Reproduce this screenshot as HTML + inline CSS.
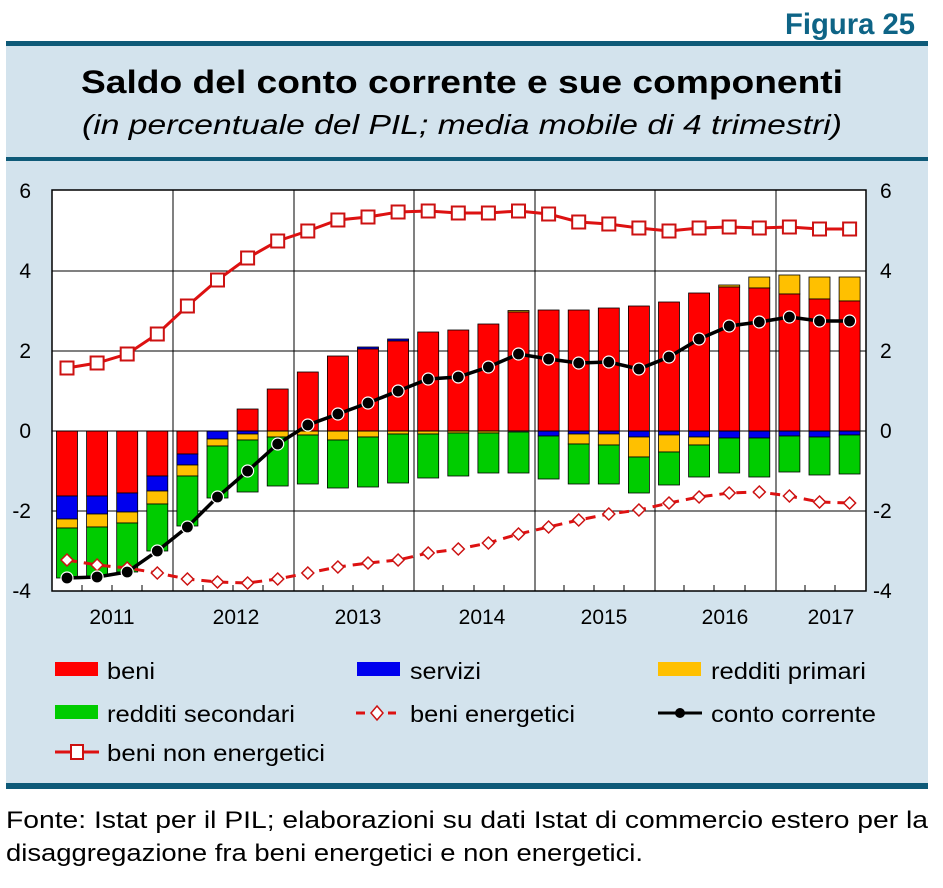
<!DOCTYPE html>
<html><head><meta charset="utf-8"><style>
html,body{margin:0;padding:0;background:#fff;}
svg{display:block;font-family:"Liberation Sans",Arial,sans-serif;}
.r{fill:#ff0000}.b{fill:#0000ee}.y{fill:#ffc000}.g{fill:#00cc00}
.bars rect{stroke:#000;stroke-width:0.8}
</style></head><body>
<svg width="943" height="888" viewBox="0 0 943 888" xmlns="http://www.w3.org/2000/svg">
<rect x="6" y="43" width="922" height="744" fill="#d3e3ed"/>
<rect x="6" y="41" width="922" height="5" fill="#0e5a78"/>
<rect x="6" y="157" width="922" height="4" fill="#0e5a78"/>
<rect x="6" y="783" width="922" height="6" fill="#0e5a78"/>
<text x="915" y="34" text-anchor="end" font-size="30" font-weight="bold" fill="#0e6486" textLength="130" lengthAdjust="spacingAndGlyphs">Figura 25</text>
<text x="462" y="93" text-anchor="middle" font-size="32" font-weight="bold" fill="#000" textLength="762" lengthAdjust="spacingAndGlyphs">Saldo del conto corrente e sue componenti</text>
<text x="462" y="134" text-anchor="middle" font-size="28" font-style="italic" fill="#000" textLength="760" lengthAdjust="spacingAndGlyphs">(in percentuale del PIL; media mobile di 4 trimestri)</text>

<rect x="52" y="190" width="814" height="401" fill="#fff"/>
<g stroke="#000" stroke-width="1">
<line x1="52" y1="271" x2="866" y2="271"/><line x1="52" y1="351" x2="866" y2="351"/><line x1="52" y1="511" x2="866" y2="511"/>
<line x1="173" y1="190" x2="173" y2="591"/><line x1="294" y1="190" x2="294" y2="591"/><line x1="414" y1="190" x2="414" y2="591"/>
<line x1="535" y1="190" x2="535" y2="591"/><line x1="655" y1="190" x2="655" y2="591"/><line x1="776" y1="190" x2="776" y2="591"/>
</g>
<g class="bars">
<rect class="r" x="56.5" y="431" width="21" height="65"/><rect class="b" x="56.5" y="496" width="21" height="23"/><rect class="y" x="56.5" y="519" width="21" height="9"/><rect class="g" x="56.5" y="528" width="21" height="50"/>
<rect class="r" x="86.6" y="431" width="21" height="65"/><rect class="b" x="86.6" y="496" width="21" height="18"/><rect class="y" x="86.6" y="514" width="21" height="13"/><rect class="g" x="86.6" y="527" width="21" height="49"/>
<rect class="r" x="116.7" y="431" width="21" height="62"/><rect class="b" x="116.7" y="493" width="21" height="19"/><rect class="y" x="116.7" y="512" width="21" height="11"/><rect class="g" x="116.7" y="523" width="21" height="49"/>
<rect class="r" x="146.8" y="431" width="21" height="45"/><rect class="b" x="146.8" y="476" width="21" height="15"/><rect class="y" x="146.8" y="491" width="21" height="13"/><rect class="g" x="146.8" y="504" width="21" height="47"/>
<rect class="r" x="176.9" y="431" width="21" height="23"/><rect class="b" x="176.9" y="454" width="21" height="11"/><rect class="y" x="176.9" y="465" width="21" height="11"/><rect class="g" x="176.9" y="476" width="21" height="50"/>
<rect class="b" x="207" y="431" width="21" height="8"/><rect class="y" x="207" y="439" width="21" height="7"/><rect class="g" x="207" y="446" width="21" height="52"/>
<rect class="r" x="237.1" y="409" width="21" height="22"/><rect class="b" x="237.1" y="431" width="21" height="3"/><rect class="y" x="237.1" y="434" width="21" height="6"/><rect class="g" x="237.1" y="440" width="21" height="52"/>
<rect class="r" x="267.2" y="389" width="21" height="42"/><rect class="y" x="267.2" y="431" width="21" height="6"/><rect class="g" x="267.2" y="437" width="21" height="49"/>
<rect class="r" x="297.3" y="372" width="21" height="59"/><rect class="y" x="297.3" y="431" width="21" height="4"/><rect class="g" x="297.3" y="435" width="21" height="49"/>
<rect class="r" x="327.4" y="356" width="21" height="75"/><rect class="y" x="327.4" y="431" width="21" height="9"/><rect class="g" x="327.4" y="440" width="21" height="48"/>
<rect class="b" x="357.5" y="347" width="21" height="2"/><rect class="r" x="357.5" y="349" width="21" height="82"/><rect class="y" x="357.5" y="431" width="21" height="6"/><rect class="g" x="357.5" y="437" width="21" height="50"/>
<rect class="b" x="387.6" y="339" width="21" height="2"/><rect class="r" x="387.6" y="341" width="21" height="90"/><rect class="y" x="387.6" y="431" width="21" height="3"/><rect class="g" x="387.6" y="434" width="21" height="49"/>
<rect class="r" x="417.7" y="332" width="21" height="99"/><rect class="y" x="417.7" y="431" width="21" height="3"/><rect class="g" x="417.7" y="434" width="21" height="44"/>
<rect class="r" x="447.8" y="330" width="21" height="101"/><rect class="y" x="447.8" y="431" width="21" height="2"/><rect class="g" x="447.8" y="433" width="21" height="43"/>
<rect class="r" x="477.9" y="324" width="21" height="107"/><rect class="y" x="477.9" y="431" width="21" height="2"/><rect class="g" x="477.9" y="433" width="21" height="40"/>
<rect class="y" x="508" y="310.5" width="21" height="1.5"/><rect class="r" x="508" y="312" width="21" height="119"/><rect class="g" x="508" y="432" width="21" height="41"/>
<rect class="r" x="538.1" y="310" width="21" height="121"/><rect class="b" x="538.1" y="431" width="21" height="5"/><rect class="g" x="538.1" y="436" width="21" height="43"/>
<rect class="r" x="568.2" y="310" width="21" height="121"/><rect class="b" x="568.2" y="431" width="21" height="3"/><rect class="y" x="568.2" y="434" width="21" height="10"/><rect class="g" x="568.2" y="444" width="21" height="40"/>
<rect class="r" x="598.3" y="308" width="21" height="123"/><rect class="b" x="598.3" y="431" width="21" height="3"/><rect class="y" x="598.3" y="434" width="21" height="11"/><rect class="g" x="598.3" y="445" width="21" height="39"/>
<rect class="r" x="628.4" y="306" width="21" height="125"/><rect class="b" x="628.4" y="431" width="21" height="6"/><rect class="y" x="628.4" y="437" width="21" height="20"/><rect class="g" x="628.4" y="457" width="21" height="36"/>
<rect class="r" x="658.5" y="302" width="21" height="129"/><rect class="b" x="658.5" y="431" width="21" height="4"/><rect class="y" x="658.5" y="435" width="21" height="17"/><rect class="g" x="658.5" y="452" width="21" height="33"/>
<rect class="r" x="688.6" y="293" width="21" height="138"/><rect class="b" x="688.6" y="431" width="21" height="6"/><rect class="y" x="688.6" y="437" width="21" height="8"/><rect class="g" x="688.6" y="445" width="21" height="32"/>
<rect class="y" x="718.7" y="285" width="21" height="2"/><rect class="r" x="718.7" y="287" width="21" height="144"/><rect class="b" x="718.7" y="431" width="21" height="7"/><rect class="g" x="718.7" y="438" width="21" height="35"/>
<rect class="y" x="748.8" y="277" width="21" height="11"/><rect class="r" x="748.8" y="288" width="21" height="143"/><rect class="b" x="748.8" y="431" width="21" height="7"/><rect class="g" x="748.8" y="438" width="21" height="39"/>
<rect class="y" x="778.9" y="275" width="21" height="19"/><rect class="r" x="778.9" y="294" width="21" height="137"/><rect class="b" x="778.9" y="431" width="21" height="5"/><rect class="g" x="778.9" y="436" width="21" height="36"/>
<rect class="y" x="809" y="277" width="21" height="22"/><rect class="r" x="809" y="299" width="21" height="132"/><rect class="b" x="809" y="431" width="21" height="6"/><rect class="g" x="809" y="437" width="21" height="38"/>
<rect class="y" x="839.1" y="277" width="21" height="24"/><rect class="r" x="839.1" y="301" width="21" height="130"/><rect class="b" x="839.1" y="431" width="21" height="4"/><rect class="g" x="839.1" y="435" width="21" height="39"/>
</g>
<line x1="52" y1="431" x2="866" y2="431" stroke="#000" stroke-width="1"/>
<polyline fill="none" stroke="#dd1111" stroke-width="3" stroke-dasharray="10,7" points="67,560 97.1,565 127.2,568 157.3,573 187.4,579 217.5,582 247.6,583 277.7,579 307.8,573 337.9,567 368,563 398.1,560 428.2,553 458.3,549 488.4,543 518.5,534 548.6,527 578.7,520 608.8,514 638.9,510 669,503 699.1,497 729.2,493 759.3,492 789.4,496 819.5,502 849.6,503"/>
<g fill="#fff" stroke="#cc1111" stroke-width="1.5">
<path d="M67 554l6 6-6 6-6-6z"/><path d="M97.1 559l6 6-6 6-6-6z"/><path d="M127.2 562l6 6-6 6-6-6z"/><path d="M157.3 567l6 6-6 6-6-6z"/><path d="M187.4 573l6 6-6 6-6-6z"/><path d="M217.5 576l6 6-6 6-6-6z"/><path d="M247.6 577l6 6-6 6-6-6z"/><path d="M277.7 573l6 6-6 6-6-6z"/><path d="M307.8 567l6 6-6 6-6-6z"/><path d="M337.9 561l6 6-6 6-6-6z"/><path d="M368 557l6 6-6 6-6-6z"/><path d="M398.1 554l6 6-6 6-6-6z"/><path d="M428.2 547l6 6-6 6-6-6z"/><path d="M458.3 543l6 6-6 6-6-6z"/><path d="M488.4 537l6 6-6 6-6-6z"/><path d="M518.5 528l6 6-6 6-6-6z"/><path d="M548.6 521l6 6-6 6-6-6z"/><path d="M578.7 514l6 6-6 6-6-6z"/><path d="M608.8 508l6 6-6 6-6-6z"/><path d="M638.9 504l6 6-6 6-6-6z"/><path d="M669 497l6 6-6 6-6-6z"/><path d="M699.1 491l6 6-6 6-6-6z"/><path d="M729.2 487l6 6-6 6-6-6z"/><path d="M759.3 486l6 6-6 6-6-6z"/><path d="M789.4 490l6 6-6 6-6-6z"/><path d="M819.5 496l6 6-6 6-6-6z"/><path d="M849.6 497l6 6-6 6-6-6z"/>
</g>
<polyline fill="none" stroke="#dd1111" stroke-width="3" points="67,368 97.1,363 127.2,354 157.3,334 187.4,306 217.5,280 247.6,258 277.7,241 307.8,231 337.9,220 368,217 398.1,212 428.2,211 458.3,213 488.4,213 518.5,211 548.6,214 578.7,222 608.8,224 638.9,228 669,231 699.1,228 729.2,227 759.3,228 789.4,227 819.5,229 849.6,229"/>
<g fill="#fff" stroke="#cc1111" stroke-width="2">
<rect x="60.5" y="361.5" width="13" height="13"/><rect x="90.6" y="356.5" width="13" height="13"/><rect x="120.7" y="347.5" width="13" height="13"/><rect x="150.8" y="327.5" width="13" height="13"/><rect x="180.9" y="299.5" width="13" height="13"/><rect x="211" y="273.5" width="13" height="13"/><rect x="241.1" y="251.5" width="13" height="13"/><rect x="271.2" y="234.5" width="13" height="13"/><rect x="301.3" y="224.5" width="13" height="13"/><rect x="331.4" y="213.5" width="13" height="13"/><rect x="361.5" y="210.5" width="13" height="13"/><rect x="391.6" y="205.5" width="13" height="13"/><rect x="421.7" y="204.5" width="13" height="13"/><rect x="451.8" y="206.5" width="13" height="13"/><rect x="481.9" y="206.5" width="13" height="13"/><rect x="512" y="204.5" width="13" height="13"/><rect x="542.1" y="207.5" width="13" height="13"/><rect x="572.2" y="215.5" width="13" height="13"/><rect x="602.3" y="217.5" width="13" height="13"/><rect x="632.4" y="221.5" width="13" height="13"/><rect x="662.5" y="224.5" width="13" height="13"/><rect x="692.6" y="221.5" width="13" height="13"/><rect x="722.7" y="220.5" width="13" height="13"/><rect x="752.8" y="221.5" width="13" height="13"/><rect x="782.9" y="220.5" width="13" height="13"/><rect x="813" y="222.5" width="13" height="13"/><rect x="843.1" y="222.5" width="13" height="13"/>
</g>
<polyline fill="none" stroke="#000" stroke-width="3.5" points="67,578 97.1,577 127.2,572 157.3,551 187.4,527 217.5,497 247.6,471 277.7,444 307.8,425 337.9,414 368,403 398.1,391 428.2,379 458.3,377 488.4,367 518.5,354 548.6,359 578.7,363 608.8,362 638.9,369 669,357 699.1,339 729.2,326 759.3,322 789.4,317 819.5,321 849.6,321"/>
<g fill="#000" stroke="#fff" stroke-width="1.2">
<circle cx="67" cy="578" r="6"/><circle cx="97.1" cy="577" r="6"/><circle cx="127.2" cy="572" r="6"/><circle cx="157.3" cy="551" r="6"/><circle cx="187.4" cy="527" r="6"/><circle cx="217.5" cy="497" r="6"/><circle cx="247.6" cy="471" r="6"/><circle cx="277.7" cy="444" r="6"/><circle cx="307.8" cy="425" r="6"/><circle cx="337.9" cy="414" r="6"/><circle cx="368" cy="403" r="6"/><circle cx="398.1" cy="391" r="6"/><circle cx="428.2" cy="379" r="6"/><circle cx="458.3" cy="377" r="6"/><circle cx="488.4" cy="367" r="6"/><circle cx="518.5" cy="354" r="6"/><circle cx="548.6" cy="359" r="6"/><circle cx="578.7" cy="363" r="6"/><circle cx="608.8" cy="362" r="6"/><circle cx="638.9" cy="369" r="6"/><circle cx="669" cy="357" r="6"/><circle cx="699.1" cy="339" r="6"/><circle cx="729.2" cy="326" r="6"/><circle cx="759.3" cy="322" r="6"/><circle cx="789.4" cy="317" r="6"/><circle cx="819.5" cy="321" r="6"/><circle cx="849.6" cy="321" r="6"/>
</g>
<rect x="52" y="190" width="814" height="401" fill="none" stroke="#000" stroke-width="1.5"/>
<g stroke="#000" stroke-width="1">
<line x1="82" y1="591" x2="82" y2="585"/><line x1="112" y1="591" x2="112" y2="585"/><line x1="142" y1="591" x2="142" y2="585"/><line x1="203" y1="591" x2="203" y2="585"/><line x1="233" y1="591" x2="233" y2="585"/><line x1="263" y1="591" x2="263" y2="585"/><line x1="323" y1="591" x2="323" y2="585"/><line x1="353" y1="591" x2="353" y2="585"/><line x1="383" y1="591" x2="383" y2="585"/><line x1="443" y1="591" x2="443" y2="585"/><line x1="474" y1="591" x2="474" y2="585"/><line x1="504" y1="591" x2="504" y2="585"/><line x1="564" y1="591" x2="564" y2="585"/><line x1="594" y1="591" x2="594" y2="585"/><line x1="624" y1="591" x2="624" y2="585"/><line x1="684" y1="591" x2="684" y2="585"/><line x1="714" y1="591" x2="714" y2="585"/><line x1="745" y1="591" x2="745" y2="585"/><line x1="805" y1="591" x2="805" y2="585"/><line x1="835" y1="591" x2="835" y2="585"/>
</g>
<g font-size="21" fill="#000">
<text x="31" y="198" text-anchor="end">6</text><text x="31" y="278" text-anchor="end">4</text><text x="31" y="358" text-anchor="end">2</text><text x="31" y="438" text-anchor="end">0</text><text x="31" y="518" text-anchor="end">-2</text><text x="31" y="598" text-anchor="end">-4</text>
<text x="880" y="198">6</text><text x="880" y="278">4</text><text x="880" y="358">2</text><text x="880" y="438">0</text><text x="873" y="518">-2</text><text x="873" y="598">-4</text>
<g text-anchor="middle"><text x="112" y="624">2011</text><text x="236" y="624">2012</text><text x="358" y="624">2013</text><text x="482" y="624">2014</text><text x="604" y="624">2015</text><text x="725" y="624">2016</text><text x="831" y="624">2017</text></g>
</g>
<g font-size="23" fill="#000">
<rect x="55" y="662" width="43" height="14" fill="#ff0000"/><text x="107" y="679" textLength="48" lengthAdjust="spacingAndGlyphs">beni</text>
<rect x="357" y="662" width="43" height="14" fill="#0000ee"/><text x="410" y="679" textLength="71" lengthAdjust="spacingAndGlyphs">servizi</text>
<rect x="658" y="662" width="43" height="14" fill="#ffc000"/><text x="711" y="679" textLength="155" lengthAdjust="spacingAndGlyphs">redditi primari</text>
<rect x="55" y="705" width="43" height="14" fill="#00cc00"/><text x="107" y="722" textLength="188" lengthAdjust="spacingAndGlyphs">redditi secondari</text>
<line x1="356" y1="713" x2="396" y2="713" stroke="#dd1111" stroke-width="3" stroke-dasharray="9,7"/><path d="M377 706l6 7-6 7-6-7z" fill="#fff" stroke="#cc1111" stroke-width="1.5"/><text x="410" y="722" textLength="165" lengthAdjust="spacingAndGlyphs">beni energetici</text>
<line x1="658" y1="713" x2="702" y2="713" stroke="#000" stroke-width="3"/><circle cx="680" cy="713" r="5" fill="#000"/><text x="711" y="722" textLength="165" lengthAdjust="spacingAndGlyphs">conto corrente</text>
<line x1="55" y1="752" x2="99" y2="752" stroke="#dd1111" stroke-width="3"/><rect x="71" y="745" width="12" height="14" fill="#fff" stroke="#cc1111" stroke-width="2"/><text x="107" y="761" textLength="218" lengthAdjust="spacingAndGlyphs">beni non energetici</text>
</g>
<g font-size="24" fill="#000">
<text x="6" y="828" textLength="922" lengthAdjust="spacingAndGlyphs">Fonte: Istat per il PIL; elaborazioni su dati Istat di commercio estero per la</text>
<text x="6" y="861" textLength="637" lengthAdjust="spacingAndGlyphs">disaggregazione fra beni energetici e non energetici.</text>
</g>
</svg>
</body></html>
